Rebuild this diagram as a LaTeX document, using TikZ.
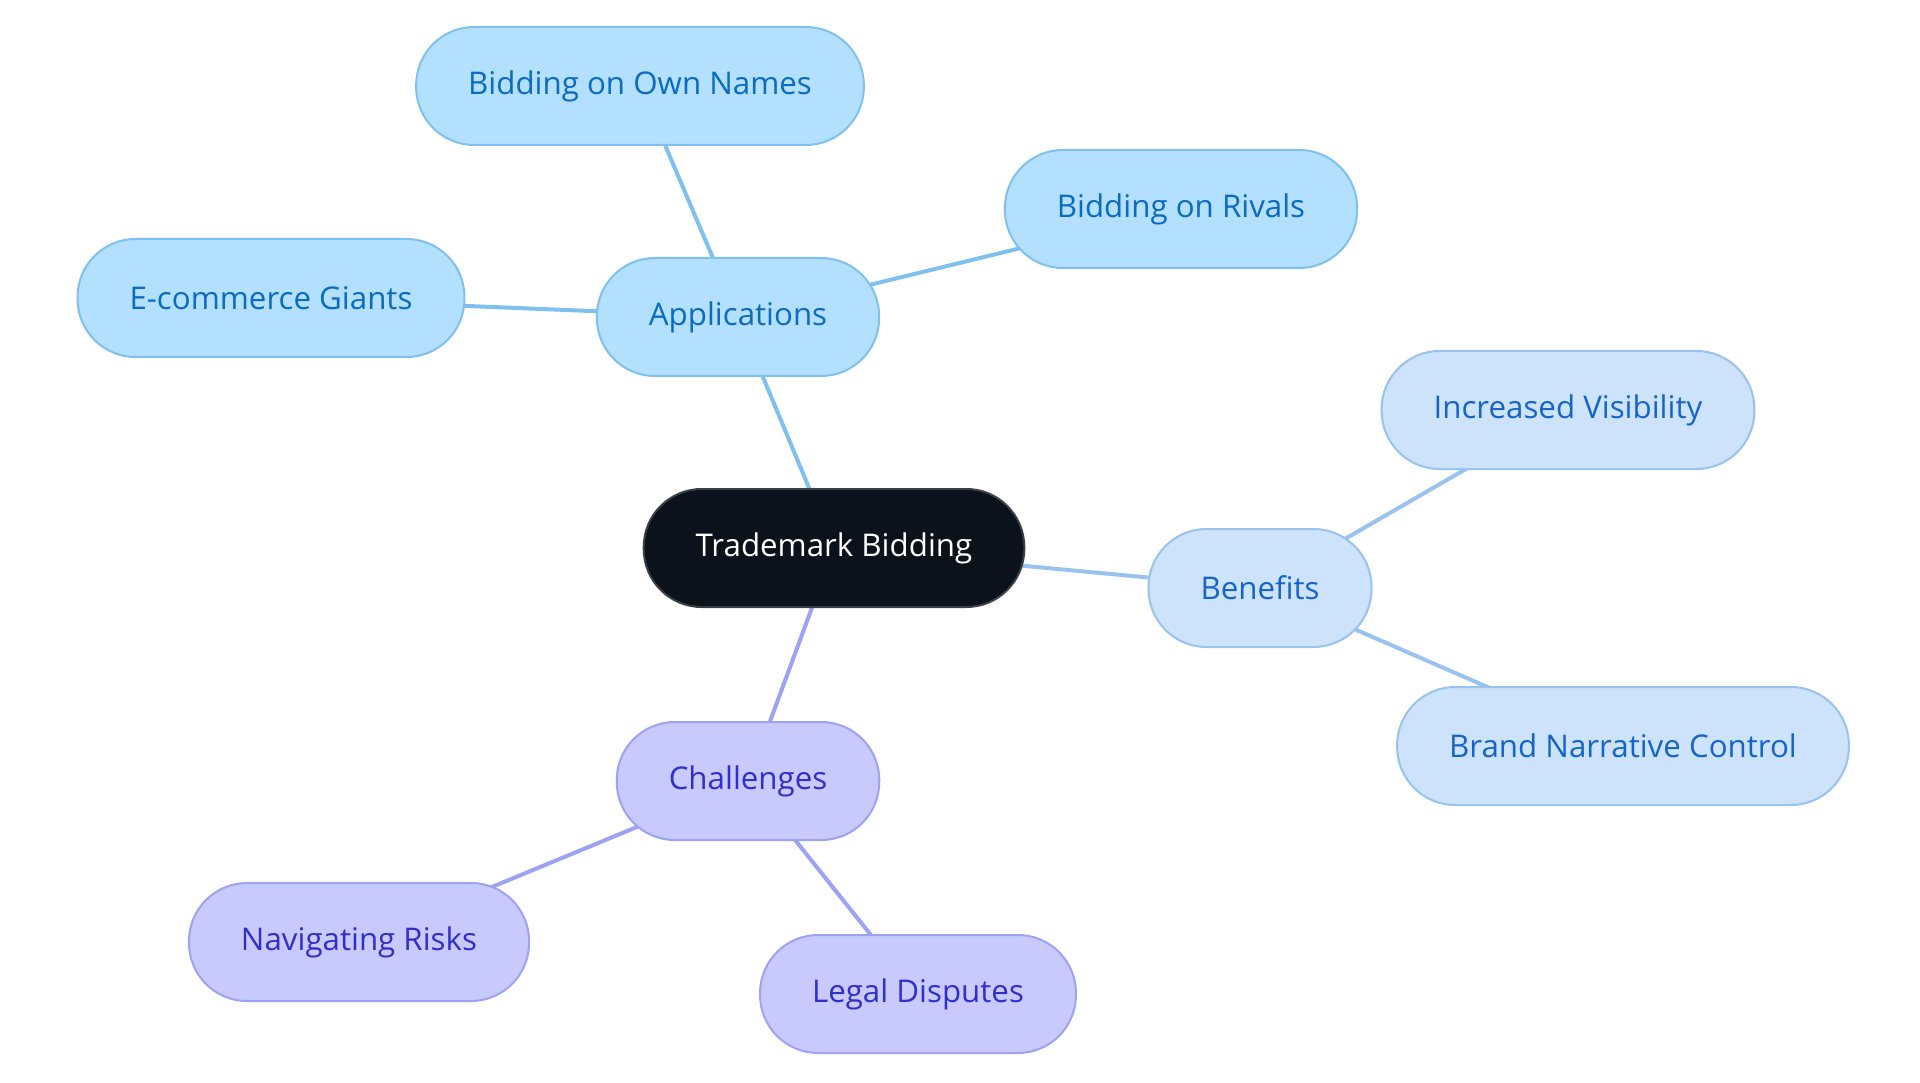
\documentclass[tikz,border=0pt]{standalone}
\usepackage{fontspec}
\setmainfont{Open Sans}
\usepackage{tikz}
\usetikzlibrary{backgrounds}

\definecolor{rootfill}{HTML}{0C121C}
\definecolor{rootline}{HTML}{3A3F47}
\definecolor{appfill}{HTML}{B3E0FF}
\definecolor{appline}{HTML}{7FC0EE}
\definecolor{apptext}{HTML}{0B6BBF}
\definecolor{benfill}{HTML}{CCE3FB}
\definecolor{benline}{HTML}{99C2EE}
\definecolor{bentext}{HTML}{1565C8}
\definecolor{chafill}{HTML}{C8CAFE}
\definecolor{chaline}{HTML}{9EA2F2}
\definecolor{chatext}{HTML}{3030C8}

\tikzset{
pill/.style={rounded corners=5.8mm, minimum height=11.8mm, inner xsep=5.2mm,
  line width=0.2mm, font=\fontsize{8.9}{10.5}\selectfont, anchor=center},
root/.style={pill, draw=rootline, fill=rootfill, text=white},
app/.style={pill, draw=appline, fill=appfill, text=apptext},
ben/.style={pill, draw=benline, fill=benfill, text=bentext},
cha/.style={pill, draw=chaline, fill=chafill, text=chatext},
link/.style={line width=0.4mm}
}

\begin{document}
\begin{tikzpicture}
\useasboundingbox (0,0) rectangle (19.2,-10.83);

\node[root] (1) at (8.34,-5.48) {Trademark Bidding};

\node[app] (2) at (7.38,-3.17) {Applications};
\node[app] (3) at (6.40,-0.86) {Bidding on Own Names};
\node[app] (4) at (11.81,-2.09) {Bidding on Rivals};
\node[app] (5) at (2.71,-2.98) {E-commerce Giants};

\node[ben] (6) at (12.60,-5.88) {Benefits};
\node[ben] (7) at (15.68,-4.10) {Increased Visibility};
\node[ben] (8) at (16.23,-7.46) {Brand Narrative Control};

\node[cha] (9) at (7.48,-7.81) {Challenges};
\node[cha] (10) at (3.59,-9.42) {Navigating Risks};
\node[cha] (11) at (9.18,-9.94) {Legal Disputes};

\begin{scope}[on background layer]
\draw[link, draw=appline] (1.center) -- (2.center);
\draw[link, draw=appline] (2.center) -- (3.center);
\draw[link, draw=appline] (2.center) -- (4.center);
\draw[link, draw=appline] (2.center) -- (5.center);

\draw[link, draw=benline] (1.center) -- (6.center);
\draw[link, draw=benline] (6.center) -- (7.center);
\draw[link, draw=benline] (6.center) -- (8.center);

\draw[link, draw=chaline] (1.center) -- (9.center);
\draw[link, draw=chaline] (9.center) -- (10.center);
\draw[link, draw=chaline] (9.center) -- (11.center);
\end{scope}
\end{tikzpicture}
\end{document}
